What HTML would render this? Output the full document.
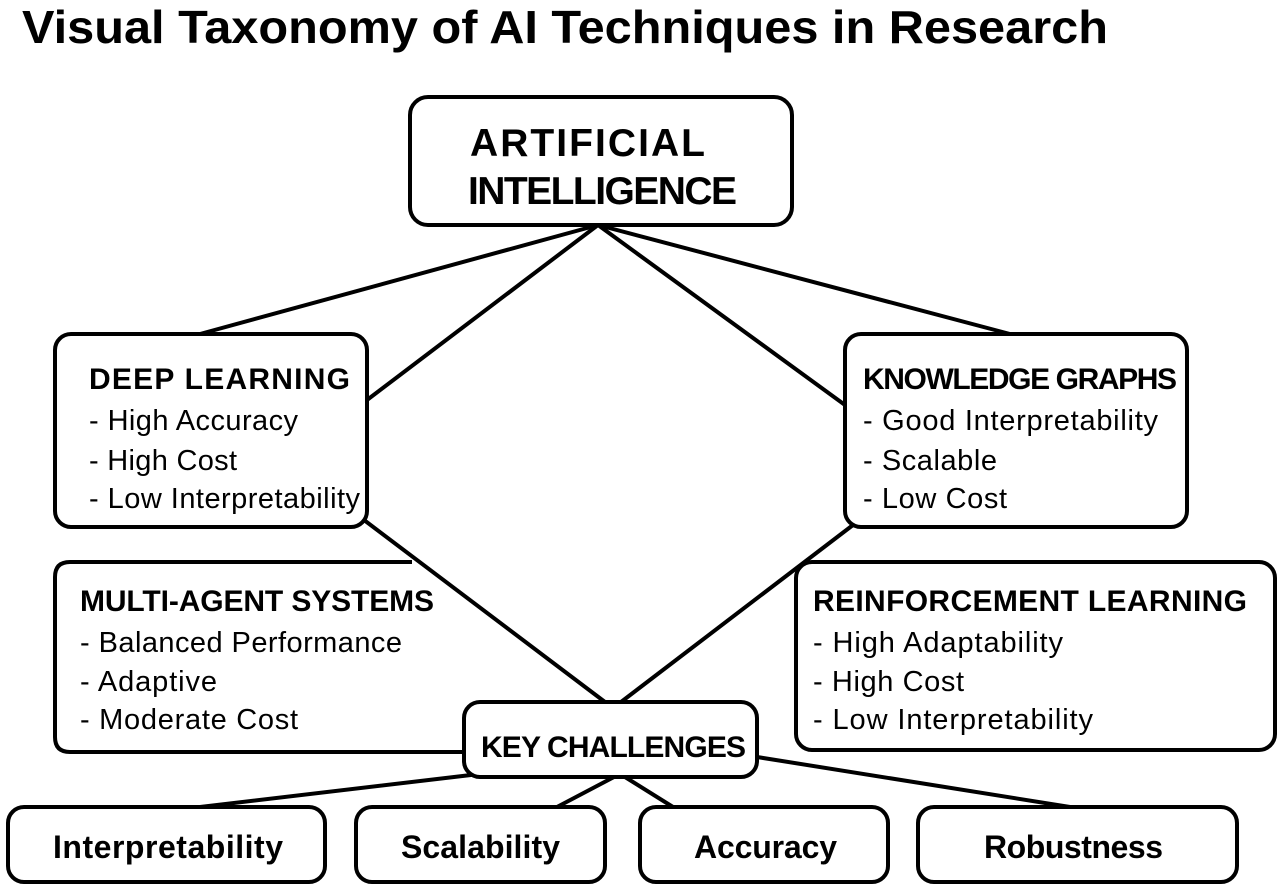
<!DOCTYPE html>
<html><head><meta charset="utf-8"><style>
html,body{margin:0;padding:0;background:#fff;}
svg{display:block;font-family:"Liberation Sans",Arial,sans-serif;}
</style></head><body>
<svg width="1280" height="893" viewBox="0 0 1280 893" xmlns="http://www.w3.org/2000/svg">
<rect width="1280" height="893" fill="#fff"/>
<text x="22" y="43" font-size="46" font-weight="bold" textLength="1086" lengthAdjust="spacingAndGlyphs">Visual Taxonomy of AI Techniques in Research</text>
<g stroke="#000" stroke-width="4" fill="none" stroke-linecap="round">
<line x1="598" y1="225" x2="200" y2="334"/>
<line x1="598" y1="225" x2="367" y2="400"/>
<line x1="598" y1="225" x2="845" y2="405"/>
<line x1="598" y1="225" x2="1010" y2="334"/>
<line x1="364" y1="520" x2="605" y2="702"/>
<line x1="853" y1="525" x2="621" y2="702"/>
<line x1="471" y1="775" x2="200" y2="807"/>
<line x1="614" y1="777" x2="557" y2="807"/>
<line x1="625" y1="777" x2="673" y2="807"/>
<line x1="757" y1="757" x2="1070" y2="807"/>
</g>
<g stroke="#000" stroke-width="4" fill="#fff">
<rect x="410" y="97" width="382" height="128" rx="18"/>
<rect x="55" y="334" width="312" height="193" rx="16"/>
<rect x="845" y="334" width="342" height="193" rx="16"/>
<path d="M412 562 L70 562 Q55 562 55 577 L55 737 Q55 752 70 752 L464 752" fill="none"/>
<rect x="796" y="562" width="479" height="188" rx="16"/>
<rect x="464" y="702" width="293" height="75" rx="16"/>
<rect x="8" y="807" width="317" height="75" rx="16"/>
<rect x="356" y="807" width="249" height="75" rx="16"/>
<rect x="640" y="807" width="248" height="75" rx="16"/>
<rect x="918" y="807" width="319" height="75" rx="16"/>
</g>
<g font-weight="bold" font-size="39" lengthAdjust="spacingAndGlyphs">
<text x="470" y="156" textLength="235">ARTIFICIAL</text>
<text x="468" y="204" textLength="269">INTELLIGENCE</text>
</g>
<g font-weight="bold" font-size="30" lengthAdjust="spacingAndGlyphs">
<text x="89" y="389" textLength="261">DEEP LEARNING</text>
<text x="863" y="389" textLength="314">KNOWLEDGE GRAPHS</text>
<text x="80" y="611" textLength="354">MULTI-AGENT SYSTEMS</text>
<text x="813" y="611" textLength="434">REINFORCEMENT LEARNING</text>
<text x="481" y="757" textLength="265">KEY CHALLENGES</text>
</g>
<g font-size="29" lengthAdjust="spacingAndGlyphs">
<text x="89" y="430" textLength="209">- High Accuracy</text>
<text x="89" y="470" textLength="148">- High Cost</text>
<text x="89" y="508" textLength="271">- Low Interpretability</text>
<text x="863" y="430" textLength="295">- Good Interpretability</text>
<text x="863" y="470" textLength="134">- Scalable</text>
<text x="863" y="508" textLength="144">- Low Cost</text>
<text x="80" y="652" textLength="322">- Balanced Performance</text>
<text x="80" y="691" textLength="137">- Adaptive</text>
<text x="80" y="729" textLength="218">- Moderate Cost</text>
<text x="813" y="652" textLength="250">- High Adaptability</text>
<text x="813" y="691" textLength="151">- High Cost</text>
<text x="813" y="729" textLength="280">- Low Interpretability</text>
</g>
<g font-weight="bold" font-size="32" lengthAdjust="spacingAndGlyphs">
<text x="53" y="858" textLength="230">Interpretability</text>
<text x="401" y="858" textLength="159">Scalability</text>
<text x="694" y="858" textLength="143">Accuracy</text>
<text x="984" y="858" textLength="179">Robustness</text>
</g>
</svg>
</body></html>
